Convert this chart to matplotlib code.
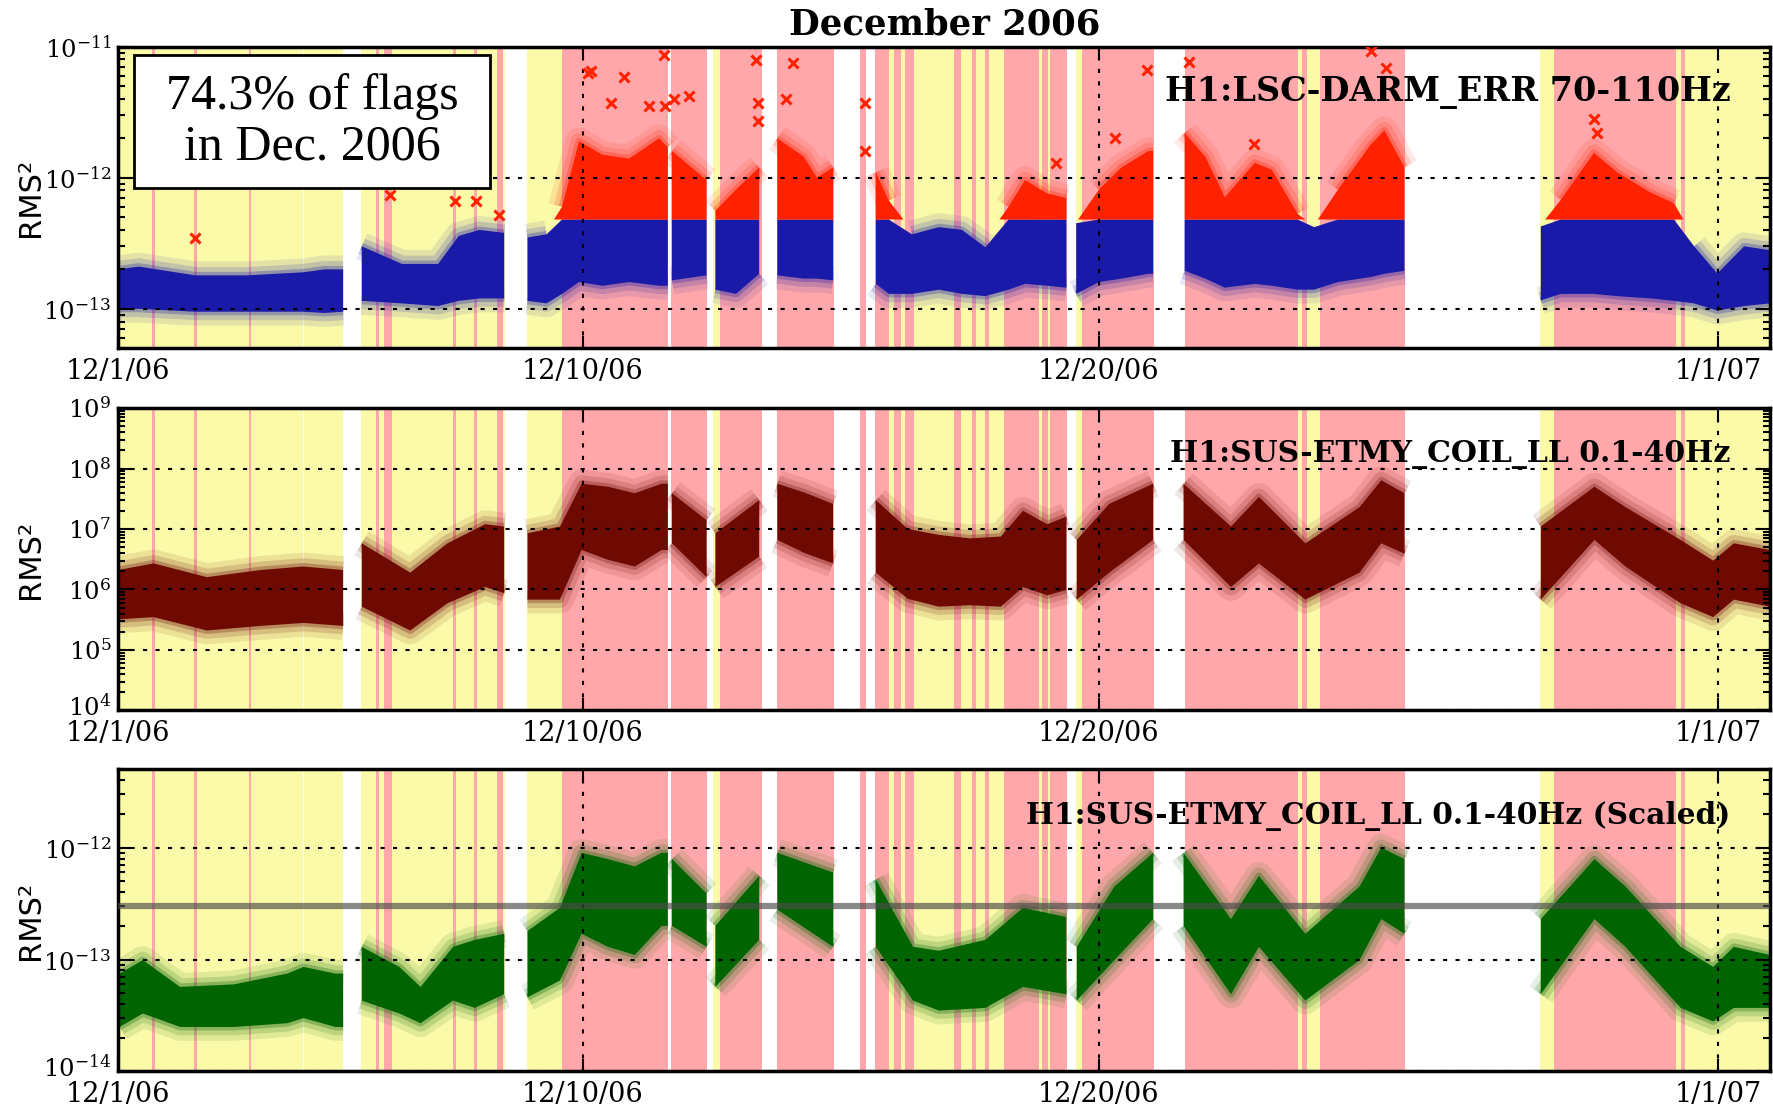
import numpy as np
import matplotlib
matplotlib.use('Agg')
import matplotlib.pyplot as plt
import matplotlib.transforms as mtransforms
from matplotlib.ticker import FixedLocator, LogLocator, FuncFormatter, NullFormatter
from matplotlib.patches import Rectangle

plt.rcParams['font.family'] = 'DejaVu Serif'
plt.rcParams['mathtext.default'] = 'regular'

nan = np.nan

# x axis: days since 12/1/06
TICK_DAYS = [0, 9, 19, 31]
TICK_LABELS = ['12/1/06', '12/10/06', '12/20/06', '1/1/07']

# science time (yellow) and flagged time (pink), in days
SCIENCE_SPANS = [(0.0, 3.59), (3.61, 4.36), (4.71, 7.49), (7.92, 10.66), (10.72, 11.40),
                 (11.53, 12.48), (12.77, 13.87), (14.38, 14.49), (14.67, 18.38),
                 (18.55, 20.06), (20.66, 24.93), (27.54, 32.0)]
FLAG_SPANS = [(0.66, 0.71), (1.47, 1.52), (2.53, 2.58), (5.00, 5.05), (5.16, 5.30),
              (6.49, 6.54), (6.90, 6.95), (7.34, 7.45), (8.60, 10.66), (10.72, 11.40),
              (11.66, 12.48), (12.77, 13.87), (14.38, 14.49), (14.67, 14.93),
              (15.03, 15.16), (15.25, 15.42), (16.19, 16.32), (16.54, 16.62),
              (16.80, 16.87), (17.16, 17.83), (17.90, 18.02), (18.05, 18.38),
              (18.67, 20.06), (20.66, 22.86), (22.93, 23.04), (23.29, 24.93),
              (27.81, 30.18), (30.27, 30.36)]

# H1:LSC-DARM_ERR 70-110Hz, core of the point cloud (nan = data gap)
DARM_DAY = np.array([0.0, 0.4, 1.5, 2.5, 3.59, 4.0, 4.36, nan,
                     4.72, 5.5, 6.2, 6.6, 7.0, 7.48, nan,
                     7.93, 8.3, 8.6, 8.93, 9.38, 9.9, 10.48, 10.65, nan,
                     10.73, 11.40, nan,
                     11.57, 11.97, 12.42, nan,
                     12.77, 13.28, 13.54, 13.85, nan,
                     14.68, 14.93, 15.38, 15.9, 16.35, 16.8, 17.25, 17.57, 18.0, 18.37, nan,
                     18.56, 19.0, 19.44, 19.96, 20.05, nan,
                     20.66, 21.06, 21.44, 22.02, 22.35, 22.85, 23.17, 23.63, 24.27, 24.53, 24.92, nan,
                     27.56, 27.95, 28.59, 29.04, 29.69, 30.14, 30.53, 30.98, 31.5, 32.0])
DARM_LO = np.array([1.0e-13, 1.0e-13, 0.95e-13, 0.95e-13, 0.95e-13, 0.93e-13, 0.95e-13, nan,
                    1.15e-13, 1.1e-13, 1.05e-13, 1.15e-13, 1.2e-13, 1.2e-13, nan,
                    1.15e-13, 1.1e-13, 1.3e-13, 1.6e-13, 1.5e-13, 1.6e-13, 1.5e-13, 1.5e-13, nan,
                    1.65e-13, 1.8e-13, nan,
                    1.4e-13, 1.3e-13, 1.85e-13, nan,
                    1.8e-13, 1.7e-13, 1.7e-13, 1.65e-13, nan,
                    1.55e-13, 1.3e-13, 1.3e-13, 1.4e-13, 1.3e-13, 1.25e-13, 1.4e-13, 1.55e-13, 1.5e-13, 1.45e-13, nan,
                    1.3e-13, 1.6e-13, 1.7e-13, 1.85e-13, 1.85e-13, nan,
                    1.95e-13, 1.7e-13, 1.45e-13, 1.55e-13, 1.5e-13, 1.4e-13, 1.4e-13, 1.6e-13, 1.75e-13, 1.85e-13, 1.95e-13, nan,
                    1.16e-13, 1.3e-13, 1.3e-13, 1.25e-13, 1.2e-13, 1.15e-13, 1.1e-13, 0.97e-13, 1.05e-13, 1.1e-13])
DARM_HI = np.array([2.0e-13, 2.1e-13, 1.8e-13, 1.8e-13, 1.9e-13, 2.0e-13, 2.0e-13, nan,
                    3.0e-13, 2.2e-13, 2.2e-13, 3.6e-13, 4.0e-13, 3.8e-13, nan,
                    3.5e-13, 3.7e-13, 6.0e-13, 1.9e-12, 1.5e-12, 1.4e-12, 2.0e-12, 1.7e-12, nan,
                    1.6e-12, 9.6e-13, nan,
                    5.6e-13, 8.1e-13, 1.2e-12, nan,
                    2.0e-12, 1.45e-12, 1.0e-12, 1.2e-12, nan,
                    1.1e-12, 6.7e-13, 3.7e-13, 4.2e-13, 4.0e-13, 2.95e-13, 6.0e-13, 9.6e-13, 7.6e-13, 7.0e-13, nan,
                    4.5e-13, 8.1e-13, 1.2e-12, 1.6e-12, 1.6e-12, nan,
                    2.2e-12, 1.45e-12, 7.1e-13, 1.3e-12, 1.15e-12, 5.3e-13, 4.2e-13, 8.1e-13, 1.8e-12, 2.3e-12, 1.2e-12, nan,
                    4.25e-13, 6.8e-13, 1.55e-12, 1.1e-12, 7.7e-13, 6.4e-13, 3.0e-13, 1.86e-13, 3.0e-13, 2.8e-13])
DARM_RED_LEVEL = 4.8e-13
# isolated loud points (red crosses)
DARM_OUT_DAY = [1.49, 5.27, 6.52, 6.93, 7.38, 9.10, 9.16, 9.54, 9.80, 10.28, 10.57, 10.60,
                10.77, 11.06, 12.35, 12.39, 12.39, 12.94, 13.07, 14.46, 14.46, 18.16,
                19.31, 19.93, 20.74, 22.0, 24.28, 24.57, 28.59, 28.65]
DARM_OUT_VAL = [3.5e-13, 7.4e-13, 6.6e-13, 6.6e-13, 5.2e-13, 6.3e-12, 6.5e-12, 3.7e-12, 5.9e-12,
                3.5e-12, 8.7e-12, 3.5e-12, 4.0e-12, 4.2e-12, 7.9e-12, 3.7e-12, 2.7e-12, 4.0e-12,
                7.5e-12, 3.7e-12, 1.6e-12, 1.3e-12, 2.0e-12, 6.6e-12, 7.7e-12, 1.8e-12,
                9.2e-12, 6.9e-12, 2.8e-12, 2.2e-12]
DARM_YTICKS = [1e-13, 1e-12, 1e-11]

# H1:SUS-ETMY_COIL_LL 0.1-40Hz
COIL_DAY = np.array([0.0, 0.69, 1.72, 2.76, 3.59, 4.36, nan,
                     4.72, 5.66, 6.38, 7.11, 7.48, nan,
                     7.93, 8.56, 8.98, 9.49, 10.01, 10.53, 10.65, nan,
                     10.73, 11.40, nan,
                     11.57, 12.42, nan,
                     12.77, 13.3, 13.85, nan,
                     14.68, 15.3, 15.9, 16.5, 17.1, 17.53, 18.0, 18.37, nan,
                     18.57, 19.2, 20.05, nan,
                     20.64, 21.56, 22.1, 23.0, 24.05, 24.47, 24.92, nan,
                     27.56, 28.6, 29.2, 30.27, 30.9, 31.3, 32.0])
COIL_LO = np.array([3.2e5, 3.5e5, 2.1e5, 2.5e5, 2.8e5, 2.5e5, nan,
                    5.2e5, 2.1e5, 5.9e5, 1.1e6, 8.7e5, nan,
                    6.8e5, 6.8e5, 4.5e6, 3.1e6, 2.4e6, 4.5e6, 4.5e6, nan,
                    5.8e6, 1.6e6, nan,
                    1.1e6, 3.5e6, nan,
                    6.6e6, 4.0e6, 2.7e6, nan,
                    1.9e6, 7.0e5, 5.2e5, 5.5e5, 5.2e5, 1.1e6, 8.0e5, 9.8e5, nan,
                    6.8e5, 1.9e6, 6.6e6, nan,
                    6.6e6, 1.1e6, 2.7e6, 6.8e5, 1.9e6, 5.8e6, 3.9e6, nan,
                    6.8e5, 6.6e6, 2.4e6, 5.9e5, 3.5e5, 6.8e5, 5.2e5])
COIL_HI = np.array([2.1e6, 2.7e6, 1.6e6, 2.1e6, 2.4e6, 2.1e6, nan,
                    5.8e6, 1.9e6, 5.8e6, 1.2e7, 1.1e7, nan,
                    8.5e6, 1.1e7, 5.6e7, 5.0e7, 3.9e7, 5.6e7, 5.6e7, nan,
                    3.9e7, 1.4e7, nan,
                    8.5e6, 3.0e7, nan,
                    5.6e7, 4.0e7, 2.6e7, nan,
                    3.0e7, 1.0e7, 8.0e6, 7.0e6, 7.5e6, 2.0e7, 1.2e7, 1.6e7, nan,
                    6.6e6, 2.6e7, 5.6e7, nan,
                    5.6e7, 1.1e7, 3.4e7, 5.8e6, 2.3e7, 6.4e7, 3.9e7, nan,
                    1.1e7, 5.0e7, 2.3e7, 6.6e6, 3.0e6, 5.8e6, 4.5e6])
COIL_YTICKS = [1e4, 1e5, 1e6, 1e7, 1e8, 1e9]

# H1:SUS-ETMY_COIL_LL 0.1-40Hz (Scaled)
SCALED_DAY = np.array([0.03, 0.48, 1.2, 2.24, 3.28, 3.59, 4.21, 4.36, nan,
                       4.72, 5.45, 5.86, 6.49, 6.91, 7.48, nan,
                       7.93, 8.56, 8.98, 9.49, 10.01, 10.53, 10.65, nan,
                       10.73, 11.40, nan,
                       11.57, 12.42, nan,
                       12.77, 13.85, nan,
                       14.68, 15.4, 15.9, 16.8, 17.53, 18.37, nan,
                       18.57, 19.3, 20.05, nan,
                       20.64, 21.56, 22.1, 23.0, 24.05, 24.47, 24.92, nan,
                       27.56, 28.6, 29.2, 30.27, 30.9, 31.3, 32.0])
SCALED_LO = np.array([2.5e-14, 3.3e-14, 2.5e-14, 2.5e-14, 2.7e-14, 3.0e-14, 2.5e-14, 2.5e-14, nan,
                      4.3e-14, 3.3e-14, 2.7e-14, 4.3e-14, 3.7e-14, 4.9e-14, nan,
                      4.6e-14, 6.5e-14, 1.7e-13, 1.3e-13, 1.1e-13, 2.0e-13, 2.0e-13, nan,
                      2.0e-13, 1.3e-13, nan,
                      5.7e-14, 1.5e-13, nan,
                      2.8e-13, 1.3e-13, nan,
                      1.3e-13, 4.3e-14, 3.5e-14, 3.7e-14, 5.7e-14, 4.9e-14, nan,
                      4.3e-14, 9.9e-14, 2.3e-13, nan,
                      2.0e-13, 4.9e-14, 1.3e-13, 4.3e-14, 9.9e-14, 2.3e-13, 1.7e-13, nan,
                      4.9e-14, 2.3e-13, 1.3e-13, 3.7e-14, 2.8e-14, 3.7e-14, 3.7e-14])
SCALED_HI = np.array([7.5e-14, 9.9e-14, 5.7e-14, 6.0e-14, 7.5e-14, 8.6e-14, 7.5e-14, 7.5e-14, nan,
                      1.3e-13, 8.6e-14, 5.7e-14, 1.3e-13, 1.5e-13, 1.7e-13, nan,
                      1.8e-13, 2.9e-13, 9.0e-13, 7.9e-13, 6.8e-13, 9.0e-13, 9.0e-13, nan,
                      7.9e-13, 3.9e-13, nan,
                      2.0e-13, 5.6e-13, nan,
                      9.0e-13, 6.0e-13, nan,
                      5.2e-13, 1.3e-13, 1.2e-13, 1.5e-13, 2.9e-13, 2.4e-13, nan,
                      1.3e-13, 4.5e-13, 9.0e-13, nan,
                      9.0e-13, 2.3e-13, 5.6e-13, 1.7e-13, 4.5e-13, 1.0e-12, 7.9e-13, nan,
                      2.3e-13, 7.9e-13, 4.5e-13, 1.3e-13, 8.6e-14, 1.3e-13, 1.1e-13])
SCALED_LEVEL = 3.0e-13
SCALED_YTICKS = [1e-14, 1e-13, 1e-12]

YELLOW = '#fafaa8'
PINK = '#ffa7aa'
BLUE = '#1a1aa8'
RED = '#ff2200'
MAROON = '#6e0a02'
GREEN = '#006400'


def log_label(v, pos):
    return r'$10^{%d}$' % int(round(np.log10(v)))


def setup(ax, ylim, yticks, label, label_size):
    for a, b in SCIENCE_SPANS:
        ax.axvspan(a, b, color=YELLOW, lw=0, zorder=0)
    for a, b in FLAG_SPANS:
        ax.axvspan(a, b, color=PINK, lw=0, zorder=0.5)
    ax.set_xlim(0, 32)
    ax.set_yscale('log')
    ax.set_ylim(*ylim)
    ax.xaxis.set_major_locator(FixedLocator(TICK_DAYS))
    ax.set_xticklabels(TICK_LABELS)
    ax.yaxis.set_major_locator(FixedLocator(yticks))
    ax.yaxis.set_minor_locator(LogLocator(base=10, subs=np.arange(2, 10), numticks=20))
    ax.yaxis.set_major_formatter(FuncFormatter(log_label))
    ax.yaxis.set_minor_formatter(NullFormatter())
    ax.tick_params(which='both', direction='in', top=True, right=True, width=1.5)
    ax.tick_params(axis='x', labelsize=19.5, pad=7)
    ax.tick_params(axis='y', labelsize=17.5, pad=5)
    ax.tick_params(which='major', length=9)
    ax.tick_params(which='minor', length=5)
    ax.grid(True, which='major', color='black', linestyle=(0, (2, 4)), lw=1.5)
    ax.set_axisbelow(False)
    for s in ax.spines.values():
        s.set_linewidth(2.5)
    ax.set_ylabel('RMS²', family='DejaVu Sans', fontsize=22)
    ax.yaxis.set_label_coords(-0.044, 0.5)
    ax.text(0.976, 0.82, label, transform=ax.transAxes, ha='right', va='baseline',
            fontsize=label_size, fontweight='bold', zorder=5)


def glow(ax, day, edge, color):
    # soft fringe of sparse points around the dense core
    for lw, a in ((20, 0.10), (12, 0.16), (5, 0.28)):
        ax.plot(day, edge, color=color, alpha=a, lw=lw, solid_capstyle='butt',
                solid_joinstyle='round', zorder=1.9)


def cloud(ax, day, lo, hi, color):
    ax.fill_between(day, lo, hi, color=color, lw=0, zorder=2)
    glow(ax, day, lo, color)
    glow(ax, day, hi, color)


fig = plt.figure(figsize=(17.73, 11.06), dpi=100)
ax1 = fig.add_axes([0.0666, 0.6851, 0.9317, 0.2727])
ax2 = fig.add_axes([0.0666, 0.3576, 0.9317, 0.2735])
ax3 = fig.add_axes([0.0666, 0.0312, 0.9317, 0.2731])

# top: DARM_ERR, red above the loud level
setup(ax1, (5e-14, 1e-11), DARM_YTICKS, 'H1:LSC-DARM_ERR 70-110Hz', 24)
blue_top = np.minimum(DARM_HI, DARM_RED_LEVEL)
ax1.fill_between(DARM_DAY, DARM_LO, blue_top, color=BLUE, lw=0, zorder=2)
ax1.fill_between(DARM_DAY, DARM_RED_LEVEL, DARM_HI, where=DARM_HI > DARM_RED_LEVEL,
                 interpolate=True, color=RED, lw=0, zorder=2)
glow(ax1, DARM_DAY, DARM_LO, BLUE)
glow(ax1, DARM_DAY, np.where(DARM_HI <= DARM_RED_LEVEL, DARM_HI, nan), BLUE)
glow(ax1, DARM_DAY, np.where(DARM_HI > DARM_RED_LEVEL, DARM_HI, nan), RED)
ax1.plot(DARM_OUT_DAY, DARM_OUT_VAL, 'x', color=RED, ms=7, mew=2.2, zorder=3)

# middle: coil RMS
setup(ax2, (1e4, 1e9), COIL_YTICKS, 'H1:SUS-ETMY_COIL_LL 0.1-40Hz', 21.5)
cloud(ax2, COIL_DAY, COIL_LO, COIL_HI, MAROON)

# bottom: scaled coil RMS with level line
setup(ax3, (1e-14, 5e-12), SCALED_YTICKS, 'H1:SUS-ETMY_COIL_LL 0.1-40Hz (Scaled)', 21.3)
cloud(ax3, SCALED_DAY, SCALED_LO, SCALED_HI, GREEN)
ax3.axhline(SCALED_LEVEL, color='#4a4a4a', alpha=0.65, lw=4.5, zorder=2.6)

fig.text(0.533, 0.978, 'December 2006', ha='center', va='center', fontsize=25.5,
         fontweight='bold')

fig.patches.append(Rectangle((134 / 1773, 1 - 188 / 1106), 356 / 1773, 133 / 1106,
                             transform=fig.transFigure, facecolor='white',
                             edgecolor='black', lw=2, zorder=4))
fig.text(312 / 1773, 1 - 122 / 1106, '74.3% of flags\nin Dec. 2006', ha='center',
         va='center', fontsize=36, family='Liberation Serif', linespacing=1.12, zorder=5)

# nudge the lowest y label up a little so it clears the date label below it
fig.canvas.draw()
lift = mtransforms.ScaledTranslation(0, 4 / 72, fig.dpi_scale_trans)
for ax in (ax2, ax3):
    lab = ax.yaxis.get_major_ticks()[0].label1
    lab.set_transform(lab.get_transform() + lift)

fig.savefig('out.png', dpi=100)
